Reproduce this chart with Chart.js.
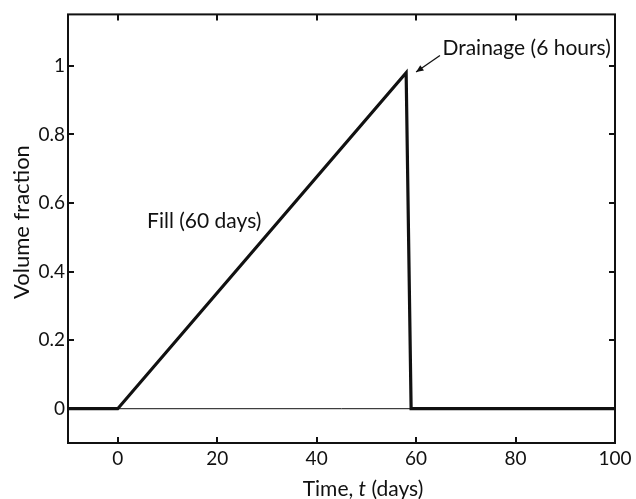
<!DOCTYPE html>
<html lang="en">
<head>
  <meta charset="UTF-8">
  <title>Volume fraction vs time</title>
  <script src="https://cdn.jsdelivr.net/npm/chart.js"></script>
  <style>
    html, body { margin: 0; padding: 0; background: #fff; }
    .chart-wrapper { width: 636px; height: 499px; position: relative; }
  </style>
</head>
<body>
  <div class="chart-wrapper">
    <canvas id="volumeChart" width="636" height="499"></canvas>
  </div>

  <script>
    // Data
    const timeDays = [-10, 0, 58, 59, 100];
    const volumeFraction = [0, 0, 0.98, 0, 0];
    const baselineTime = [-10, 100];
    const baselineValue = [0, 0];

    const xTicks = [0, 20, 40, 60, 80, 100];
    const yTicks = [0, 0.2, 0.4, 0.6, 0.8, 1];
    const yTickLabels = ['0', '0.2', '0.4', '0.6', '0.8', '1'];

    // annotations: [x, y] in data units
    const fillLabel = { text: 'Fill (60 days)', at: [5.9, 0.527] };
    const drainLabel = { text: 'Drainage (6 hours)', at: [65.3, 1.032] };
    const drainArrow = { from: [64.8, 1.03], to: [60.0, 0.982] };

    const FONT = 'Lato, "Open Sans", sans-serif';

    // Axes box, inward ticks, axis titles and text annotations
    const framePlugin = {
      id: 'frame',
      afterDraw(chart) {
        const ctx = chart.ctx;
        const { left, right, top, bottom } = chart.chartArea;
        const xs = chart.scales.x, ys = chart.scales.y;
        ctx.save();
        ctx.strokeStyle = '#111';
        ctx.lineWidth = 2;
        ctx.strokeRect(left, top, right - left, bottom - top);

        // inward ticks
        ctx.beginPath();
        xTicks.forEach(v => {
          const px = Math.round(xs.getPixelForValue(v));
          ctx.moveTo(px, bottom); ctx.lineTo(px, bottom - 6);
          ctx.moveTo(px, top); ctx.lineTo(px, top + 6);
        });
        yTicks.forEach(v => {
          const py = Math.round(ys.getPixelForValue(v));
          ctx.moveTo(left, py); ctx.lineTo(left + 6, py);
          ctx.moveTo(right, py); ctx.lineTo(right - 6, py);
        });
        ctx.stroke();

        ctx.fillStyle = '#111';
        // x title with italic t
        const parts = [['Time, ', ''], ['t', 'italic '], [' (days)', '']];
        let total = 0;
        parts.forEach(p => { ctx.font = p[1] + '21px ' + FONT; total += ctx.measureText(p[0]).width; });
        let tx = 363 - total / 2;
        ctx.textBaseline = 'alphabetic';
        ctx.textAlign = 'left';
        parts.forEach(p => {
          ctx.font = p[1] + '21px ' + FONT;
          ctx.fillText(p[0], tx, 496);
          tx += ctx.measureText(p[0]).width;
        });

        // y title
        ctx.save();
        ctx.translate(29, 222);
        ctx.rotate(-Math.PI / 2);
        ctx.font = '22px ' + FONT;
        ctx.textAlign = 'center';
        ctx.fillText('Volume fraction', 0, 0);
        ctx.restore();

        // annotations
        ctx.font = '21px ' + FONT;
        ctx.textAlign = 'left';
        ctx.fillText(fillLabel.text, xs.getPixelForValue(fillLabel.at[0]), ys.getPixelForValue(fillLabel.at[1]));
        ctx.fillText(drainLabel.text, xs.getPixelForValue(drainLabel.at[0]), ys.getPixelForValue(drainLabel.at[1]));

        // arrow
        const x1 = xs.getPixelForValue(drainArrow.from[0]), y1 = ys.getPixelForValue(drainArrow.from[1]);
        const x2 = xs.getPixelForValue(drainArrow.to[0]), y2 = ys.getPixelForValue(drainArrow.to[1]);
        ctx.lineWidth = 1.3;
        ctx.beginPath();
        ctx.moveTo(x1, y1); ctx.lineTo(x2, y2);
        ctx.stroke();
        const ang = Math.atan2(y2 - y1, x2 - x1);
        const hl = 8, hw = 0.42;
        ctx.beginPath();
        ctx.moveTo(x2, y2);
        ctx.lineTo(x2 - hl * Math.cos(ang - hw), y2 - hl * Math.sin(ang - hw));
        ctx.lineTo(x2 - hl * Math.cos(ang + hw), y2 - hl * Math.sin(ang + hw));
        ctx.closePath();
        ctx.fill();
        ctx.restore();
      }
    };

    new Chart(document.getElementById('volumeChart'), {
      type: 'line',
      data: {
        datasets: [
          {
            data: baselineTime.map((t, i) => ({ x: t, y: baselineValue[i] })),
            borderColor: '#111',
            borderWidth: 1,
            pointRadius: 0
          },
          {
            data: timeDays.map((t, i) => ({ x: t, y: volumeFraction[i] })),
            borderColor: '#111',
            borderWidth: 3.2,
            pointRadius: 0,
            borderJoinStyle: 'miter'
          }
        ]
      },
      options: {
        responsive: false,
        animation: false,
        layout: { padding: { left: 0, right: 21, top: 13, bottom: 0 } },
        plugins: { legend: { display: false }, tooltip: { enabled: false } },
        scales: {
          x: {
            type: 'linear',
            min: -10,
            max: 100,
            grid: { display: false, drawTicks: false },
            border: { display: false },
            afterBuildTicks: s => { s.ticks = xTicks.map(v => ({ value: v })); },
            afterFit: s => { s.height = 56; },
            ticks: {
              padding: 4,
              color: '#111',
              font: { family: FONT, size: 19 },
              callback: v => String(v)
            }
          },
          y: {
            type: 'linear',
            min: -0.1,
            max: 1.15,
            grid: { display: false, drawTicks: false },
            border: { display: false },
            afterBuildTicks: s => { s.ticks = yTicks.map(v => ({ value: v })); },
            afterFit: s => { s.width = 68; },
            ticks: {
              padding: 3,
              color: '#111',
              font: { family: FONT, size: 19 },
              callback: (v, i) => yTickLabels[i]
            }
          }
        }
      },
      plugins: [framePlugin]
    });
  </script>
</body>
</html>
